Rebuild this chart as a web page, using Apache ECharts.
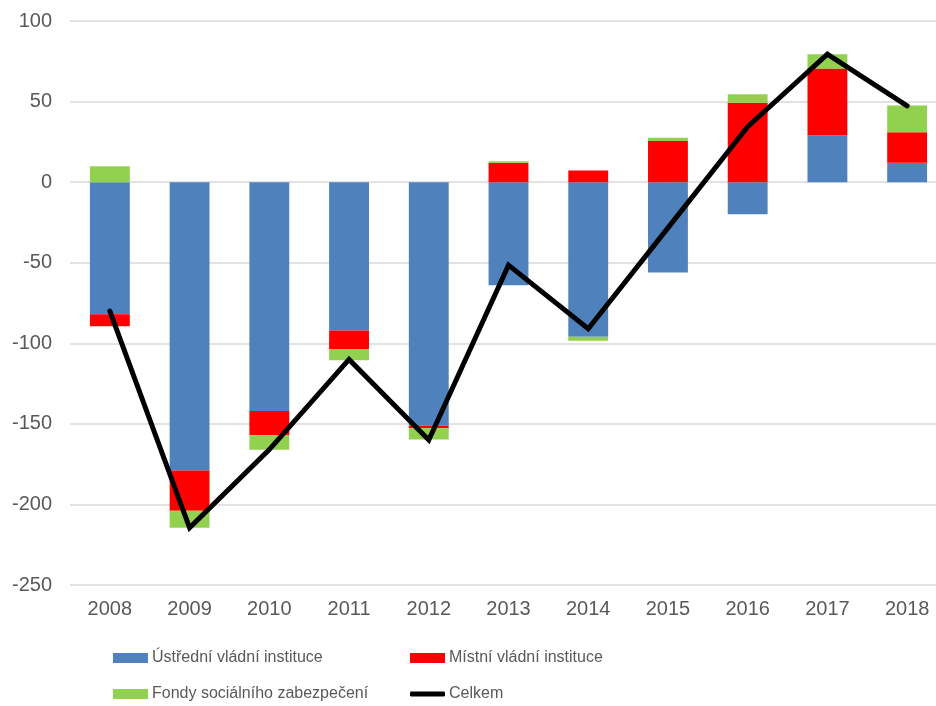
<!DOCTYPE html>
<html>
<head>
<meta charset="utf-8">
<script src="https://cdn.jsdelivr.net/npm/echarts@6/dist/echarts.min.js"></script>
<style>
  html, body { margin: 0; padding: 0; background: #fff; }
  #chart { width: 936px; height: 706px; }
</style>
</head>
<body>
<div id="chart"></div>
<script>
// roky
const years = ['2008', '2009', '2010', '2011', '2012', '2013', '2014', '2015', '2016', '2017', '2018']
// saldo podle subsektorů
const ustredni = [-82, -179, -142, -92, -151, -64, -96, -56, -20, 29, 12]
const mistni = [-7.5, -25, -15, -11.5, -1.7, 12, 7.3, 25.6, 49.3, 41.6, 18.9]
const fondy = [9.8, -10.5, -9, -7, -7, 1, -2.5, 2, 5.2, 8.7, 16.7]
const celkem = [-80, -214.5, -166, -110, -160, -51.5, -91, -28.4, 34.4, 79.5, 47.3]

const names = ['Ústřední vládní instituce', 'Místní vládní instituce', 'Fondy sociálního zabezpečení', 'Celkem']
const textColor = '#595959'
const font = 'Liberation Sans, Arial, sans-serif'

function legendAt (name, left, top, extra) {
  return Object.assign({
    data: [name],
    left: left,
    top: top,
    padding: 0,
    itemWidth: 35,
    itemHeight: 10,
    itemGap: 4,
    icon: 'rect',
    selectedMode: false,
    textStyle: { color: textColor, fontSize: 16, fontFamily: font, padding: [0, 0, 0, -1] }
  }, extra || {})
}

const myChart = echarts.init(document.getElementById('chart'))
const option = {
  animation: false,
  backgroundColor: '#fff',
  grid: {
    left: 70,
    top: 21,
    width: 877,
    height: 564,
    containLabel: false,
    outerBoundsMode: 'none'
  },
  legend: [
    legendAt(names[0], 113, 650),
    legendAt(names[1], 410, 650),
    legendAt(names[2], 113, 686),
    legendAt(names[3], 410, 686, { icon: 'roundRect', itemHeight: 5 })
  ],
  xAxis: {
    type: 'category',
    data: years,
    axisLine: { show: false },
    axisTick: { show: false },
    axisLabel: { color: textColor, fontSize: 20, fontFamily: font, margin: 14 }
  },
  yAxis: {
    type: 'value',
    min: -250,
    max: 100,
    interval: 50,
    axisLine: { show: false },
    axisTick: { show: false },
    axisLabel: { color: textColor, fontSize: 20, fontFamily: font, margin: 18 },
    splitLine: { lineStyle: { color: '#d9d9d9', width: 1.5 } }
  },
  series: [
    {
      name: names[0],
      type: 'bar',
      stack: 'saldo',
      barWidth: '50%',
      itemStyle: { color: '#4f81bd' },
      data: ustredni
    },
    {
      name: names[1],
      type: 'bar',
      stack: 'saldo',
      itemStyle: { color: '#ff0000' },
      data: mistni
    },
    {
      name: names[2],
      type: 'bar',
      stack: 'saldo',
      itemStyle: { color: '#92d050' },
      data: fondy
    },
    {
      name: names[3],
      type: 'line',
      symbol: 'none',
      z: 5,
      itemStyle: { color: '#000' },
      lineStyle: { color: '#000', width: 5, cap: 'round', join: 'miter' },
      data: celkem
    }
  ]
}
myChart.setOption(option, true)
</script>
</body>
</html>
